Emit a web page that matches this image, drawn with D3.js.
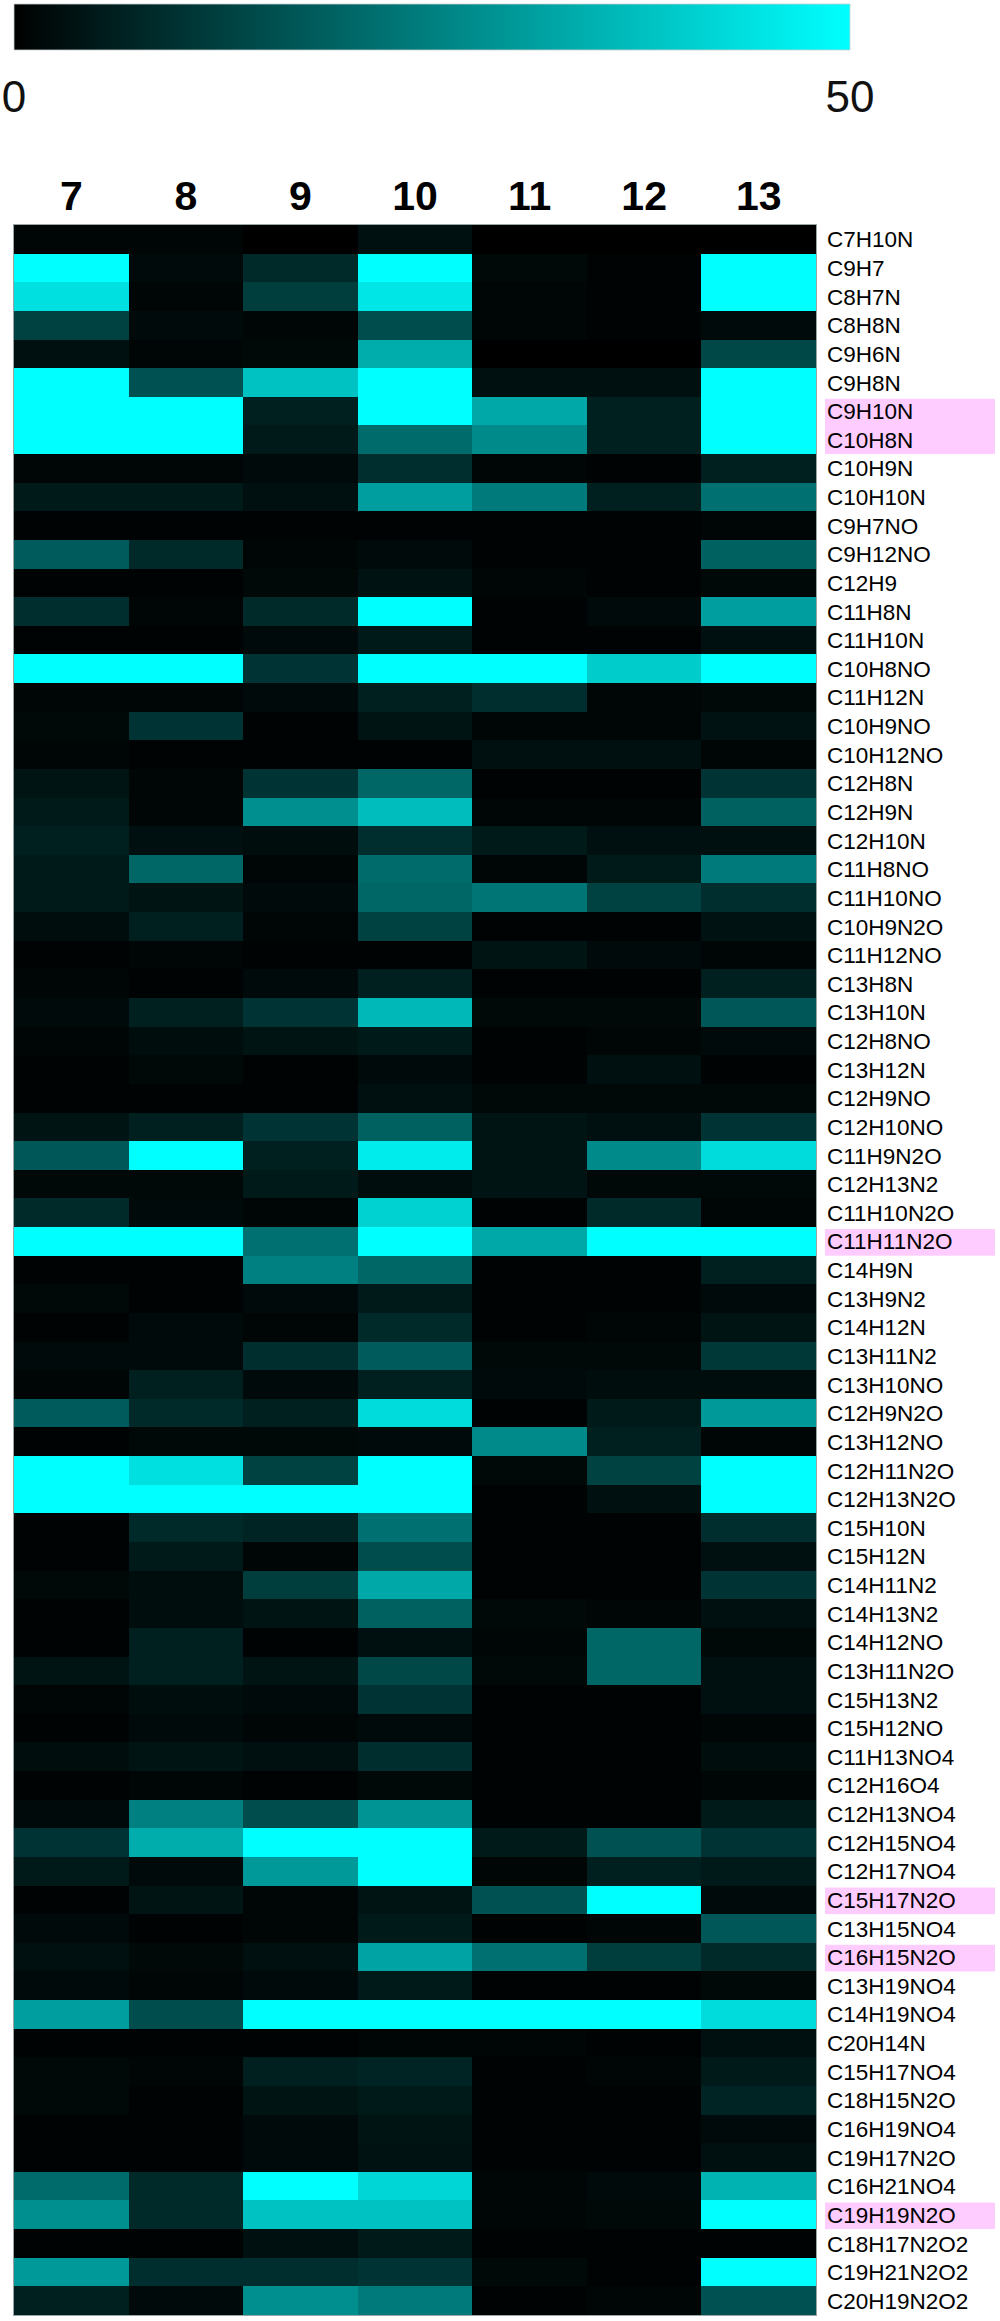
<!DOCTYPE html>
<html>
<head>
<meta charset="utf-8">
<script src="https://cdn.jsdelivr.net/npm/d3@7"></script>
<style>
  html, body { margin: 0; padding: 0; background: #ffffff; }
  svg { display: block; }
  text { font-family: "Liberation Sans", Arial, sans-serif; }
</style>
</head>
<body>
<svg id="chart" width="1000" height="2321"></svg>
<script>
// ---------- data ----------
const columns = ["7", "8", "9", "10", "11", "12", "13"];

const rowLabels = [
  "C7H10N","C9H7","C8H7N","C8H8N","C9H6N","C9H8N","C9H10N","C10H8N","C10H9N","C10H10N",
  "C9H7NO","C9H12NO","C12H9","C11H8N","C11H10N","C10H8NO","C11H12N","C10H9NO","C10H12NO","C12H8N",
  "C12H9N","C12H10N","C11H8NO","C11H10NO","C10H9N2O","C11H12NO","C13H8N","C13H10N","C12H8NO","C13H12N",
  "C12H9NO","C12H10NO","C11H9N2O","C12H13N2","C11H10N2O","C11H11N2O","C14H9N","C13H9N2","C14H12N","C13H11N2",
  "C13H10NO","C12H9N2O","C13H12NO","C12H11N2O","C12H13N2O","C15H10N","C15H12N","C14H11N2","C14H13N2","C14H12NO",
  "C13H11N2O","C15H13N2","C15H12NO","C11H13NO4","C12H16O4","C12H13NO4","C12H15NO4","C12H17NO4","C15H17N2O","C13H15NO4",
  "C16H15N2O","C13H19NO4","C14H19NO4","C20H14N","C15H17NO4","C18H15N2O","C16H19NO4","C19H17N2O","C16H21NO4","C19H19N2O",
  "C18H17N2O2","C19H21N2O2","C20H19N2O2"
];

// values per row, columns 7..13 (colour scale 0 - 50, saturating)
const values = [
  [1, 1, 0, 3, 0, 0, 0],
  [50, 2, 8, 50, 1.5, 0.5, 50],
  [44, 1, 12, 45, 1, 0.5, 50],
  [13, 2, 1, 15, 1, 0.5, 2],
  [3, 1, 1.5, 34, 0, 0, 14],
  [50, 16, 38, 50, 3, 3, 50],
  [50, 50, 6, 50, 33, 6, 50],
  [50, 50, 5, 21, 27, 6, 50],
  [1, 1, 2, 9, 1, 0.5, 6],
  [5, 5, 3, 31, 24, 6, 22],
  [0.5, 0.5, 0.5, 0.5, 0.5, 0.5, 1],
  [18, 8, 1, 2, 0.5, 0.5, 19],
  [0.5, 0.5, 1.5, 3.5, 1, 0.5, 1.5],
  [9, 1, 8, 50, 0.5, 2, 31],
  [0.5, 0.5, 2, 5, 0.5, 0.5, 3],
  [50, 50, 10, 50, 50, 40, 50],
  [1, 1, 2, 6, 9, 1, 1.5],
  [1.5, 10, 0.5, 4, 1, 1, 3.5],
  [1, 0.5, 0.5, 0.5, 3, 3, 1],
  [4, 1, 10, 20, 0.5, 0.5, 10],
  [5, 1, 28, 37, 1, 1, 19],
  [6, 3, 2.5, 9, 5, 3, 3],
  [5, 20, 1, 21, 1, 5, 24],
  [5, 4, 2, 20, 23, 13, 9],
  [2.5, 6, 1, 13, 0.5, 0.5, 3.5],
  [0.5, 1, 0.5, 0.5, 4, 2, 1],
  [1, 0.5, 2, 6, 0.5, 0.5, 6],
  [2, 6, 10, 36, 1.5, 1.5, 17],
  [1, 2.5, 4, 5, 0.5, 1, 2],
  [0.5, 1.5, 0.5, 2, 0.5, 3, 0.5],
  [0.5, 0.5, 0.5, 3, 1.5, 1.5, 1.5],
  [4, 6, 10, 19, 4, 3, 10],
  [17, 50, 6, 46, 4, 27, 43],
  [1.5, 1.5, 5, 2.5, 4, 1.5, 1.5],
  [8, 2, 1, 41, 0.5, 8, 1],
  [50, 50, 22, 50, 33, 50, 50],
  [0.5, 0.5, 25, 20, 0.5, 0.5, 6],
  [1.5, 0.5, 2, 5, 0.5, 0.5, 2],
  [0.5, 2, 1, 8, 0.5, 1, 4],
  [2, 2, 9, 18, 1.5, 1.5, 11],
  [1, 6, 2, 6, 2, 2.5, 2.5],
  [18, 8, 6, 43, 0.5, 5, 30],
  [0.5, 1.5, 1.5, 2, 27, 6, 1],
  [50, 44, 13, 50, 1.5, 13, 50],
  [50, 50, 50, 50, 0.5, 3, 50],
  [0.5, 8, 7, 22, 0.5, 0.5, 9],
  [0.5, 5, 1, 15, 0.5, 0.5, 3],
  [1.5, 2.5, 12, 33, 0.5, 0.5, 10],
  [0.5, 2.5, 4, 19, 1.5, 1, 3],
  [0.5, 6, 0.5, 3, 1, 20, 1.5],
  [4, 6, 4, 14, 1.5, 20, 3],
  [1, 2.5, 2, 10, 0.5, 0.5, 3],
  [0.5, 2, 1, 2, 0.5, 0.5, 1],
  [2.5, 4, 3, 9, 0.5, 0.5, 2.5],
  [0.5, 1, 0.5, 1.5, 0.5, 0.5, 1],
  [2, 25, 15, 29, 0.5, 0.5, 5],
  [10, 34, 50, 50, 5, 16, 10],
  [5, 2, 30, 50, 1, 6, 5],
  [0.5, 4, 1, 4, 16, 50, 2],
  [2, 0.5, 1, 5, 0.5, 1, 17],
  [3, 1.5, 3, 32, 22, 12, 8],
  [2, 1, 2, 5, 0.5, 0.5, 1.5],
  [31, 15, 50, 50, 50, 50, 43],
  [0.5, 0.5, 0.5, 1, 1, 0.5, 3],
  [1.5, 1, 6, 7, 0.5, 1, 5],
  [1.5, 0.5, 4, 5, 0.5, 0.5, 7],
  [0.5, 0.5, 2, 4, 0.5, 0.5, 2],
  [0.5, 0.5, 2, 3.5, 0.5, 0.5, 3],
  [21, 8, 50, 42, 1, 2, 35],
  [28, 8, 38, 38, 1, 1.5, 50],
  [0.5, 0.5, 3, 5, 0.5, 0.5, 0.5],
  [30, 9, 9, 10, 1.5, 0.5, 50],
  [6, 2, 28, 24, 0.5, 1, 16]
];

// highlighted label groups (consecutive rows share one box)
const highlighted = [["C9H10N", "C10H8N"], ["C11H11N2O"], ["C15H17N2O"], ["C16H15N2O"], ["C19H19N2O"]];

const legendTicks = [0, 50];

// ---------- layout ----------
const svg = d3.select("#chart");
const heatLeft = 14, heatRight = 816, heatTop = 225, heatBottom = 2315;

const x = d3.scaleBand().domain(columns).range([heatLeft, heatRight]).padding(0);
const y = d3.scaleBand().domain(rowLabels).range([heatTop, heatBottom]).padding(0);
const color = d3.scaleLinear().domain([0, 50]).range(["#000000", "#00ffff"]).clamp(true);

// ---------- colour bar ----------
const defs = svg.append("defs");
const grad = defs.append("linearGradient").attr("id", "cbar").attr("x1", "0%").attr("x2", "100%");
d3.range(0, 51, 5).forEach(v => {
  grad.append("stop").attr("offset", (v / 50 * 100) + "%").attr("stop-color", color(v));
});
const legendX = d3.scaleLinear().domain([0, 50]).range([14, 850]);
svg.append("rect")
  .attr("x", legendX(0)).attr("y", 4)
  .attr("width", legendX(50) - legendX(0)).attr("height", 46)
  .attr("fill", "url(#cbar)")
  .attr("stroke", "#c8d0d0").attr("stroke-width", 0.8);

svg.append("g")
  .selectAll("text")
  .data(legendTicks)
  .join("text")
  .attr("x", d => legendX(d))
  .attr("y", 112)
  .attr("text-anchor", "middle")
  .attr("font-size", 44)
  .attr("fill", "#111")
  .text(d => d);

// ---------- column headers ----------
svg.append("g")
  .selectAll("text")
  .data(columns)
  .join("text")
  .attr("x", d => x(d) + x.bandwidth() / 2)
  .attr("y", 210)
  .attr("text-anchor", "middle")
  .attr("font-size", 41)
  .attr("font-weight", "bold")
  .attr("fill", "#000")
  .text(d => d);

// ---------- highlight boxes ----------
svg.append("g")
  .selectAll("rect")
  .data(highlighted)
  .join("rect")
  .attr("x", 825)
  .attr("y", d => y(d[0]) + 2)
  .attr("width", 170)
  .attr("height", d => y(d[d.length - 1]) + y.bandwidth() - y(d[0]) - 2)
  .attr("fill", "#ffccff");

// ---------- heatmap cells ----------
const cells = [];
values.forEach((row, i) => row.forEach((v, j) => cells.push({ r: rowLabels[i], c: columns[j], v })));

svg.append("g")
  .attr("shape-rendering", "crispEdges")
  .selectAll("rect")
  .data(cells)
  .join("rect")
  .attr("x", d => x(d.c))
  .attr("y", d => y(d.r))
  .attr("width", x.bandwidth() + 0.5)
  .attr("height", y.bandwidth() + 0.5)
  .attr("fill", d => color(d.v));

svg.append("rect")
  .attr("x", heatLeft - 0.5).attr("y", heatTop - 0.5)
  .attr("width", heatRight - heatLeft + 1).attr("height", heatBottom - heatTop + 1)
  .attr("fill", "none").attr("stroke", "#9aa6a6").attr("stroke-width", 1);

// ---------- row labels ----------
svg.append("g")
  .selectAll("text")
  .data(rowLabels)
  .join("text")
  .attr("x", 827)
  .attr("y", d => y(d) + y.bandwidth() / 2)
  .attr("dy", "0.36em")
  .attr("font-size", 22.5)
  .attr("fill", "#000")
  .text(d => d);
</script>
</body>
</html>
